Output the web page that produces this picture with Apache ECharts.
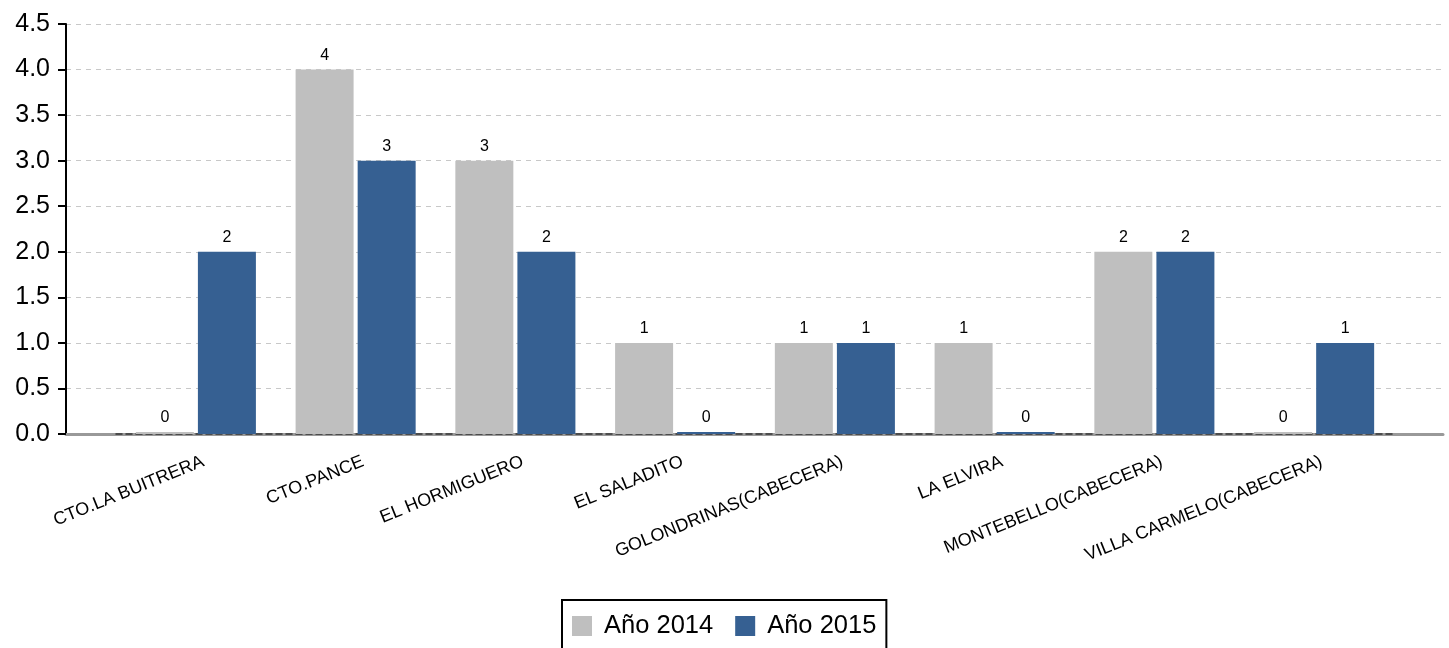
<!DOCTYPE html>
<html>
<head>
<meta charset="utf-8">
<script src="https://cdn.jsdelivr.net/npm/echarts@6/dist/echarts.min.js"></script>
<style>html,body{margin:0;padding:0;background:#fff;}#c{width:1449px;height:648px;}</style>
</head>
<body>
<div id="c"></div>
<script>
const categories = ['CTO.LA BUITRERA','CTO.PANCE','EL HORMIGUERO','EL SALADITO','GOLONDRINAS(CABECERA)','LA ELVIRA','MONTEBELLO(CABECERA)','VILLA CARMELO(CABECERA)'];
const seriesNames = ['Año 2014','Año 2015'];
const values2014 = [0,4,3,1,1,1,2,0];
const values2015 = [2,3,2,0,1,0,2,1];
const yMin = 0, yMax = 4.5, yStep = 0.5;

const font = 'Liberation Sans, Arial, sans-serif';
const chart = echarts.init(document.getElementById('c'));
const barLabel = {show:true, position:'top', distance:6, color:'#000', fontSize:16, fontFamily:font};
chart.setOption({
  animation:false,
  textStyle:{fontFamily:font},
  legend:{
    data:seriesNames, top:600, left:562,
    itemWidth:20, itemHeight:20, itemGap:22,
    textStyle:{fontSize:25.5, color:'#000', fontFamily:font, padding:[0,0,0,7]},
    borderColor:'#000', borderWidth:2, padding:[13,10,30,10],
    icon:'rect'
  },
  grid:[
    {left:66, right:6, top:24, bottom:214},
    {left:116, right:55, top:24, bottom:214}
  ],
  xAxis:[
    {gridIndex:0, type:'value', min:0, max:1, show:true,
      axisLine:{show:true, lineStyle:{color:'#999', width:3}},
      axisTick:{show:false}, axisLabel:{show:false}, splitLine:{show:false}},
    {gridIndex:1, type:'category', data:categories,
      axisLine:{show:true, lineStyle:{color:'#333', width:1.5, type:[6,4]}},
      axisTick:{show:false},
      axisLabel:{rotate:22, fontSize:18, color:'#000', margin:30, interval:0, fontFamily:font, padding:[0,-8,0,0]}}
  ],
  yAxis:[
    {gridIndex:0, type:'value', min:yMin, max:yMax, interval:yStep,
      axisLine:{show:true, lineStyle:{color:'#000', width:2}},
      axisTick:{show:true, length:8, lineStyle:{color:'#000', width:2}},
      axisLabel:{fontSize:25, color:'#000', margin:16, fontFamily:font, formatter:v=>v.toFixed(1)},
      splitLine:{show:true, lineStyle:{color:'#c8c8c8', type:[5,5], width:1}}},
    {gridIndex:1, type:'value', min:yMin, max:yMax, interval:yStep, show:false, splitLine:{show:false}}
  ],
  series:[
    {name:seriesNames[0], type:'bar', xAxisIndex:1, yAxisIndex:1, data:values2014,
      barWidth:58, barGap:'7%', barMinHeight:2, itemStyle:{color:'#bfbfbf'}, label:barLabel},
    {name:seriesNames[1], type:'bar', xAxisIndex:1, yAxisIndex:1, data:values2015,
      barWidth:58, barGap:'7%', barMinHeight:2, itemStyle:{color:'#366092'}, label:barLabel}
  ]
});
</script>
</body>
</html>
